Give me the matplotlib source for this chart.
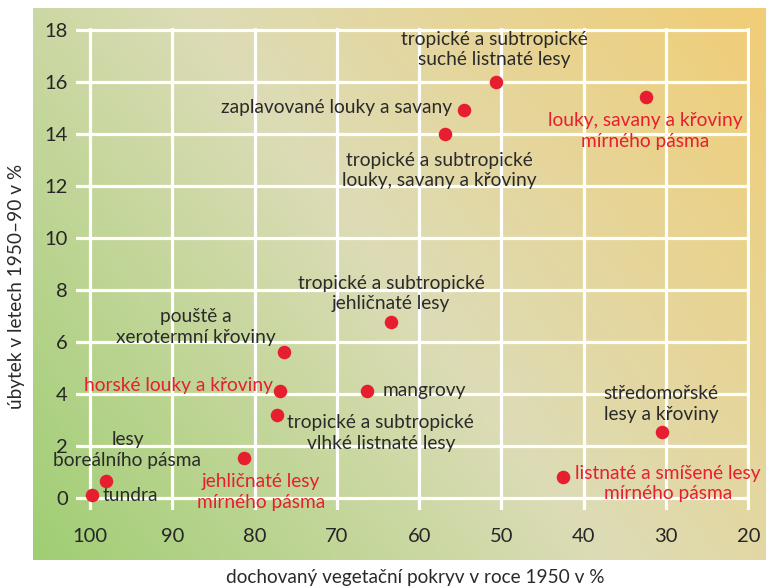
import numpy as np
import matplotlib
matplotlib.use("Agg")
import matplotlib.pyplot as plt
from matplotlib.colors import LinearSegmentedColormap

plt.rcParams['font.family'] = ['Lato', 'DejaVu Sans']

# ---- data ----
categories = [
    "tundra",
    "lesy\nboreálního pásma",
    "jehličnaté lesy\nmírného pásma",
    "tropické a subtropické\nvlhké listnaté lesy",
    "horské louky a křoviny",
    "pouště a\nxerotermní křoviny",
    "mangrovy",
    "tropické a subtropické\njehličnaté lesy",
    "tropické a subtropické\nlouky, savany a křoviny",
    "zaplavované louky a savany",
    "tropické a subtropické\nsuché listnaté lesy",
    "louky, savany a křoviny\nmírného pásma",
    "středomořské\nlesy a křoviny",
    "listnaté a smíšené lesy\nmírného pásma",
]
cover_1950 = [99.8, 98.0, 81.3, 77.3, 76.9, 76.4, 66.3, 63.4, 56.9, 54.6, 50.7, 32.4, 30.5, 42.5]
loss_1950_90 = [0.1, 0.64, 1.52, 3.18, 4.1, 5.61, 4.1, 6.76, 14.0, 14.93, 16.0, 15.45, 2.52, 0.79]
highlighted = [False, False, True, False, True, False, False, False, False, False, False, True, False, True]

x_ticks = [100, 90, 80, 70, 60, 50, 40, 30, 20]
y_ticks = [0, 2, 4, 6, 8, 10, 12, 14, 16, 18]
x_label = "dochovaný vegetační pokryv v roce 1950 v %"
y_label = "úbytek v letech 1950–90 v %"

# ---- label layout (offset in pixels from point, alignment) ----
label_layout = [
    ((11, -1), 'left'),
    ((21, 31), 'center'),
    ((17, -34), 'center'),
    ((104, -18), 'center'),
    ((-7, 6), 'right'),
    ((-88, 25), 'center'),
    ((15, 1), 'left'),
    ((0, 28.5), 'center'),
    ((-5, -36.5), 'center'),
    ((-11, 3), 'right'),
    ((-1, 32.5), 'center'),
    ((-1, -34.5), 'center'),
    ((-1, 28), 'center'),
    ((105, -6.5), 'center'),
]

W, H = 766, 588
fig = plt.figure(figsize=(W / 100, H / 100), dpi=100)

# gradient background panel
px0, px1, py0, py1 = 33, 766, 8, 560
bg = fig.add_axes([px0 / W, 1 - py1 / H, (px1 - px0) / W, (py1 - py0) / H])
bg.set_axis_off()
nx, ny = 400, 300
gx = np.linspace(0, px1 - px0, nx)
gy = np.linspace(0, py1 - py0, ny)
GX, GY = np.meshgrid(gx, gy)
d = np.array([0.8, 0.6])
T = (GX * d[0] + GY * d[1]) / ((px1 - px0) * d[0] + (py1 - py0) * d[1])
cmap = LinearSegmentedColormap.from_list(
    "bg", [(0.0, '#a0ce74'), (0.5, '#dddcb6'), (1.0, '#f1cd76')])
bg.imshow(T, cmap=cmap, origin='lower', aspect='auto', extent=[0, 1, 0, 1],
          vmin=0, vmax=1, interpolation='bilinear')
bg.set_xlim(0, 1)
bg.set_ylim(0, 1)

# main axes
ax_l, ax_r, ax_t, ax_b = 76, 750, 28, 510
ax = fig.add_axes([ax_l / W, 1 - ax_b / H, (ax_r - ax_l) / W, (ax_b - ax_t) / H])
ax.patch.set_alpha(0)
ax.set_xlim(101.7, 19.8)
ax.set_ylim(-0.48, 18.09)
for s in ax.spines.values():
    s.set_visible(False)
ax.set_xticks(x_ticks)
ax.set_yticks(y_ticks)
ax.set_xticklabels([str(v) for v in x_ticks])
ax.set_yticklabels([str(v) for v in y_ticks])
ax.tick_params(length=0, labelsize=14.5, labelcolor='#262626')
ax.tick_params(axis='x', pad=13)
ax.tick_params(axis='y', pad=6)
ax.grid(True, color='white', linewidth=2.3, zorder=1)
ax.set_axisbelow(True)

red = '#e61e30'
dark = '#2a2a2a'
ax.scatter(cover_1950, loss_1950_90, s=95, color=red, zorder=3, linewidths=0)

for name, xv, yv, hl, ((dx, dy), ha) in zip(categories, cover_1950, loss_1950_90,
                                            highlighted, label_layout):
    ax.annotate(name, (xv, yv), xytext=(dx, dy), textcoords='offset pixels',
                ha=ha, va='center', fontsize=13.8, color=red if hl else dark,
                linespacing=1.25, zorder=4)

fig.text(415 / W, 1 - 577 / H, x_label, ha='center', va='center',
         fontsize=13.7, color=dark)
fig.text(17 / W, 1 - 286 / H, y_label, ha='center', va='center',
         rotation=90, fontsize=13.7, color=dark)

fig.savefig("out.png", dpi=100)
